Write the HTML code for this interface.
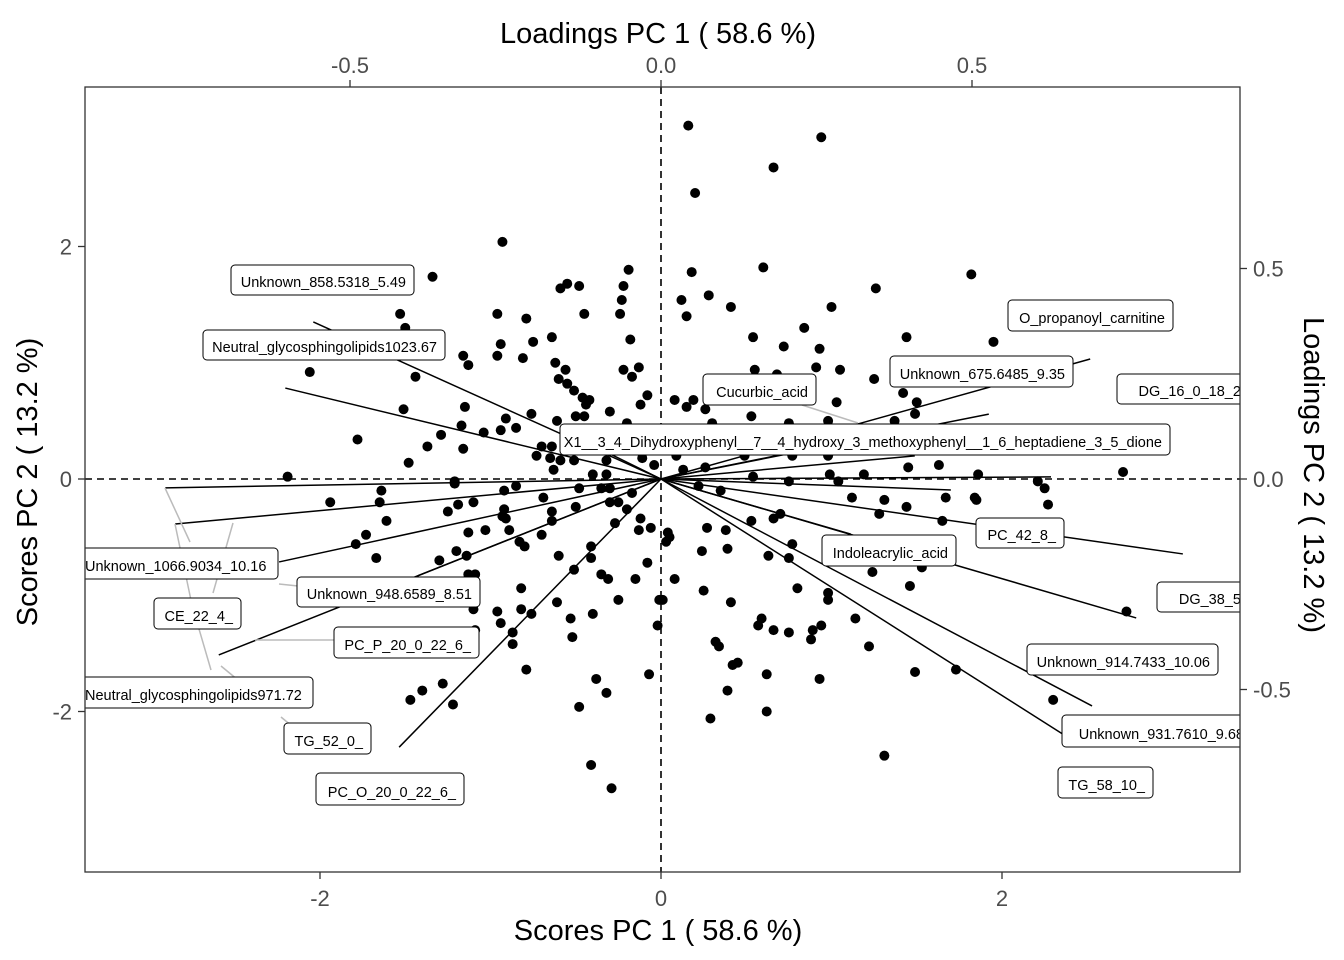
<!DOCTYPE html>
<html><head><meta charset="utf-8"><style>
html,body{margin:0;padding:0;background:#fff;}
svg{display:block;font-family:"Liberation Sans",sans-serif;}
</style></head><body>
<svg id="chart" width="1344" height="960" viewBox="0 0 1344 960" xmlns="http://www.w3.org/2000/svg">
<defs><clipPath id="plotclip"><rect x="85" y="87" width="1155" height="785"/></clipPath></defs>
<rect x="0" y="0" width="1344" height="960" fill="#fff"/>
<g id="plot" clip-path="url(#plotclip)"></g>
<rect x="85" y="87" width="1155" height="785" fill="none" stroke="#333" stroke-width="1.3"/>
<g id="axes"></g>
<text x="658" y="43" text-anchor="middle" font-size="29" fill="#000">Loadings PC 1 ( 58.6 %)</text>
<text x="658" y="940" text-anchor="middle" font-size="29" fill="#000">Scores PC 1 ( 58.6 %)</text>
<text transform="translate(37,482) rotate(-90)" text-anchor="middle" font-size="29" fill="#000">Scores PC 2 ( 13.2 %)</text>
<text transform="translate(1304,475) rotate(90)" text-anchor="middle" font-size="29" fill="#000">Loadings PC 2 ( 13.2 %)</text>
</svg>
<script>
// ---- data ----
const scoreX = [-0.93,-1.34,-0.19,-0.22,-0.55,-0.59,-0.48,-0.23,-0.24,-1.53,-0.96,-0.79,-0.45,-1.50,-0.64,-0.18,-0.94,-0.75,-0.96,-0.81,-1.16,-1.13,-0.62,-0.56,-0.22,-0.13,-0.17,-2.06,-1.44,-0.60,-0.55,-0.51,-0.46,-0.42,-0.44,-0.08,-0.12,-1.51,-1.15,-0.76,-0.30,-0.50,-0.45,-0.91,-0.61,-1.17,-0.94,-0.85,-1.04,-1.29,-1.78,-0.20,-1.37,-1.16,-0.70,-0.64,-0.73,-0.65,-0.59,-0.51,-0.32,-0.11,-0.04,-1.48,-0.63,-0.40,-0.32,-2.19,-1.21,
0.16,0.94,0.66,0.20,0.18,0.60,1.82,1.26,0.12,0.28,0.15,0.41,1.00,0.84,0.54,0.72,0.93,1.44,1.95,0.55,0.91,1.05,1.25,0.68,0.08,0.15,0.19,0.26,1.03,1.42,1.50,1.49,0.53,0.98,1.37,0.30,0.75,1.45,1.63,2.71,0.13,0.26,0.99,1.19,1.86,0.54,0.09,0.49,0.77,0.98,
-1.94,-1.64,-1.65,-1.61,-1.21,-0.92,-0.85,-1.25,-1.19,-1.10,-0.69,-0.48,-0.35,-0.30,-0.92,-0.93,-0.91,-0.64,-0.50,-0.64,-0.30,-0.25,-0.20,-0.17,-0.12,-0.06,-0.13,-1.73,-1.79,-1.13,-1.03,-0.89,-0.83,-0.80,-0.70,-0.27,-1.67,-1.30,-1.20,-1.14,-0.60,-0.41,-0.41,-0.08,-0.51,-0.35,-0.31,-0.15,-1.13,-1.09,-0.82,-0.25,-0.01,-1.10,-0.96,-0.82,-0.76,-0.61,-0.53,-0.40,-0.94,-0.87,-1.09,-0.52,-0.02,-0.87,-0.79,-0.38,-0.32,-0.07,-1.28,-1.40,-1.47,-1.22,-0.48,-0.41,-0.29,
0.22,0.35,0.75,1.04,1.12,1.31,1.44,1.67,1.84,1.85,2.21,2.25,2.27,1.28,1.65,0.70,0.66,0.53,0.04,0.05,0.03,0.27,0.38,0.24,0.39,0.63,0.77,0.75,1.24,1.53,1.46,0.08,0.25,0.01,0.41,0.80,0.98,0.98,2.73,1.14,0.59,0.57,0.66,0.75,0.89,0.88,0.94,0.32,0.34,1.22,0.42,0.45,0.62,0.93,1.49,1.73,0.39,2.30,0.62,0.29,1.31];
const scoreY = [2.04,1.74,1.80,1.66,1.68,1.64,1.66,1.54,1.42,1.42,1.42,1.38,1.42,1.30,1.22,1.20,1.16,1.18,1.06,1.04,1.06,0.98,1.00,0.94,0.94,0.96,0.88,0.92,0.88,0.86,0.82,0.76,0.70,0.68,0.64,0.72,0.64,0.60,0.62,0.56,0.58,0.54,0.54,0.52,0.50,0.46,0.42,0.44,0.40,0.38,0.34,0.48,0.28,0.26,0.28,0.28,0.20,0.18,0.16,0.16,0.16,0.18,0.12,0.14,0.08,0.04,0.04,0.02,-0.02,
3.04,2.94,2.68,2.46,1.78,1.82,1.76,1.64,1.54,1.58,1.40,1.48,1.48,1.30,1.22,1.14,1.12,1.22,1.18,0.94,0.96,0.94,0.86,0.90,0.68,0.62,0.68,0.60,0.66,0.74,0.66,0.56,0.54,0.50,0.50,0.48,0.48,0.10,0.12,0.06,0.08,0.10,0.04,0.04,0.04,0.02,0.20,0.20,0.20,0.20,
-0.20,-0.10,-0.20,-0.36,-0.04,-0.10,-0.06,-0.28,-0.22,-0.20,-0.16,-0.08,-0.08,-0.08,-0.26,-0.32,-0.34,-0.28,-0.24,-0.36,-0.20,-0.20,-0.26,-0.12,-0.34,-0.42,-0.44,-0.48,-0.56,-0.46,-0.44,-0.44,-0.54,-0.58,-0.48,-0.38,-0.68,-0.70,-0.62,-0.66,-0.66,-0.58,-0.68,-0.72,-0.78,-0.82,-0.86,-0.86,-0.82,-0.82,-0.94,-1.04,-1.04,-1.12,-1.14,-1.12,-1.16,-1.06,-1.20,-1.16,-1.24,-1.32,-1.30,-1.36,-1.26,-1.42,-1.64,-1.72,-1.84,-1.68,-1.76,-1.82,-1.90,-1.94,-1.96,-2.46,-2.66,
-0.06,-0.10,-0.02,-0.02,-0.16,-0.18,-0.24,-0.16,-0.16,-0.18,-0.02,-0.08,-0.22,-0.30,-0.36,-0.30,-0.34,-0.36,-0.46,-0.50,-0.54,-0.42,-0.44,-0.62,-0.60,-0.66,-0.56,-0.68,-0.80,-0.76,-0.92,-0.86,-0.96,-1.04,-1.06,-0.94,-0.98,-1.04,-1.14,-1.20,-1.20,-1.26,-1.30,-1.32,-1.30,-1.38,-1.26,-1.40,-1.44,-1.44,-1.60,-1.58,-1.68,-1.72,-1.66,-1.64,-1.82,-1.90,-2.00,-2.06,-2.38];
const loadingNames = ["Unknown_858.5318_5.49","Neutral_glycosphingolipids1023.67","CE_22_4_","Unknown_1066.9034_10.16","TG_52_0_","Unknown_948.6589_8.51","PC_P_20_0_22_6_","PC_O_20_0_22_6_","Unknown_675.6485_9.35","O_propanoyl_carnitine","DG_16_0_18_2_","X1__3_4_Dihydroxyphenyl__7__4_hydroxy_3_methoxyphenyl__1_6_heptadiene_3_5_dione","Cucurbic_acid","TG_58_10_","PC_42_8_","DG_38_5_","Indoleacrylic_acid","Unknown_914.7433_10.06","Unknown_931.7610_9.68","Neutral_glycosphingolipids971.72"];
const loadingX = [-0.559,-0.604,-0.797,-0.781,-0.614,-0.391,-0.711,-0.421,0.690,0.527,0.627,0.408,0.191,0.466,0.839,0.764,0.305,0.693,0.646,-0.154];
const loadingY = [0.373,0.216,-0.021,-0.107,-0.197,-0.230,-0.418,-0.637,0.285,0.154,0.005,0.055,0.057,-0.026,-0.178,-0.330,-0.131,-0.539,-0.606,0.112];
const scoreTicks = [-2,0,2];
const scoreTickLabels = ["-2","0","2"];
const loadTicks = [-0.5,0,0.5];
const loadTickLabelsX = ["-0.5","0.0","0.5"];
const loadTickLabelsY = ["-0.5","0.0","0.5"];

// ---- scales ----
const sx = v => 661 + v*170.5;
const sy = v => 479 - v*116.25;
const lx = v => 661 + v*622;
const ly = v => 479 - v*421;
const NS = "http://www.w3.org/2000/svg";
const plot = document.getElementById('plot');
const axes = document.getElementById('axes');
function mk(tag, attrs, parent){const e=document.createElementNS(NS,tag);for(const k in attrs)e.setAttribute(k,attrs[k]);parent.appendChild(e);return e;}

let e = mk('line',{x1:85,x2:1240,y1:sy(0),y2:sy(0),stroke:'#000','stroke-width':1.6,'stroke-dasharray':'7,5'},plot);


e = mk('line',{x1:sx(0),x2:sx(0),y1:87,y2:872,stroke:'#000','stroke-width':1.6,'stroke-dasharray':'7,5'},plot);



for(let i=0;i<scoreX.length;i++){
  const c = mk('circle',{cx:sx(scoreX[i]),cy:sy(scoreY[i]),r:5,fill:'#000'},plot);
  
  
}
for(let i=0;i<loadingX.length;i++){
  const l = mk('line',{x1:lx(0),y1:ly(0),x2:lx(loadingX[i]),y2:ly(loadingY[i]),stroke:'#000','stroke-width':1.5},plot);
  
  
}
const leaders = [[165,488,190,542],[175,524,192,605],[192,605,211,670],[233,523,213,593],[279,584,298,586],[255,640,334,640],[221,666,244,685],[281,717,299,732],[802,405,858,423]];
leaders.forEach(s=>{
  const g = mk('line',{x1:s[0],y1:s[1],x2:s[2],y2:s[3],stroke:'#bbb','stroke-width':1.5},plot);
  
  
});
const labelBoxes = [[0,231,265,183,30],[1,203,330,242,30],[9,1008,300,165,31],[8,890,356,183,31],[10,1117,374,140,30],[12,703,374,113,31],[11,560,424,610,31],[3,70,548,208,31],[5,297,577,183,30],[2,154,598,87,31],[6,334,627,145,31],[19,70,677,243,31],[4,284,723,87,31],[7,316,773,148,32],[14,976,518,88,30],[16,822,535,134,31],[15,1157,582,100,30],[17,1027,644,191,31],[18,1062,715,190,32],[13,1058,767,95,31]];
labelBoxes.forEach(b=>{
  const g = mk('g',{},plot);
  
  
  mk('rect',{x:b[1],y:b[2],width:b[3],height:b[4],rx:4,fill:'#fff',stroke:'#000','stroke-width':1},g);
  const t = mk('text',{x:b[1]+b[3]-8,y:b[2]+b[4]-8,'text-anchor':'end','font-size':14.5,fill:'#000'},g);
  t.textContent = loadingNames[b[0]];
  if(b[1]<85){t.setAttribute('x',85);t.setAttribute('text-anchor','start');}
});

scoreTicks.forEach((v,i)=>{
  mk('line',{x1:sx(v),x2:sx(v),y1:872,y2:879,stroke:'#333','stroke-width':1.3},axes);
  const t=mk('text',{x:sx(v),y:906,'text-anchor':'middle','font-size':22,fill:'#4d4d4d'},axes);
  t.textContent=scoreTickLabels[i];
  
  
  mk('line',{x1:78,x2:85,y1:sy(v),y2:sy(v),stroke:'#333','stroke-width':1.3},axes);
  const t2=mk('text',{x:72,y:sy(v)+8,'text-anchor':'end','font-size':22,fill:'#4d4d4d'},axes);
  t2.textContent=scoreTickLabels[i];
  
  
});
loadTicks.forEach((v,i)=>{
  mk('line',{x1:lx(v),x2:lx(v),y1:80,y2:87,stroke:'#333','stroke-width':1.3},axes);
  const t=mk('text',{x:lx(v),y:73,'text-anchor':'middle','font-size':22,fill:'#4d4d4d'},axes);
  t.textContent=loadTickLabelsX[i];
  
  
  mk('line',{x1:1240,x2:1247,y1:ly(v),y2:ly(v),stroke:'#333','stroke-width':1.3},axes);
  const t2=mk('text',{x:1253,y:ly(v)+8,'text-anchor':'start','font-size':22,fill:'#4d4d4d'},axes);
  t2.textContent=loadTickLabelsY[i];
  
  
});
</script>
</body></html>
